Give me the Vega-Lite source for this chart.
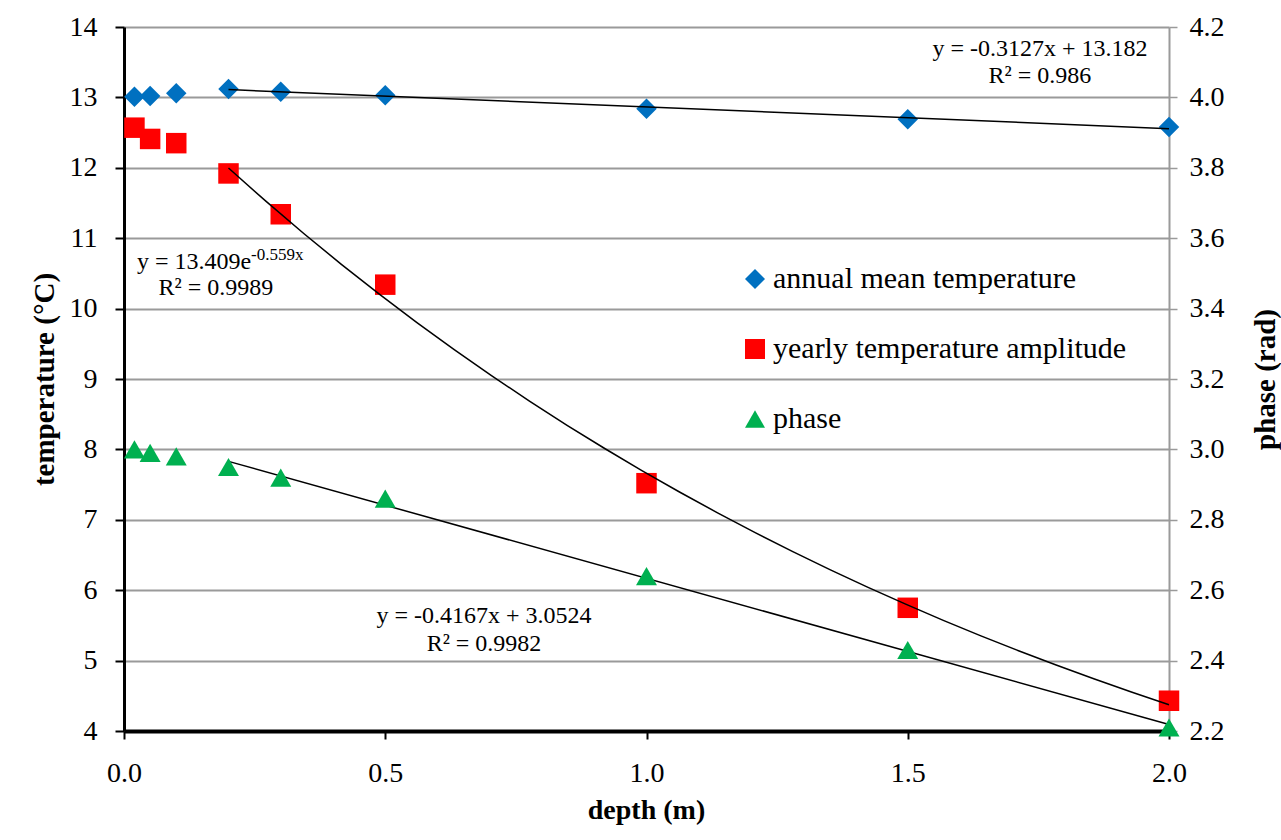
{
  "$schema": "https://vega.github.io/schema/vega-lite/v6.json",
  "width": 1045,
  "height": 704,
  "autosize": "none",
  "padding": {"left": 124, "top": 27, "right": 112, "bottom": 109},
  "background": "white",
  "config": {
    "view": {"stroke": null},
    "font": "Liberation Serif",
    "text": {"font": "Liberation Serif"}
  },
  "datasets": {
    "obs": [
      {"depth": 0.02, "series": "annual mean temperature", "value": 13.01},
      {"depth": 0.05, "series": "annual mean temperature", "value": 13.02},
      {"depth": 0.1, "series": "annual mean temperature", "value": 13.06},
      {"depth": 0.2, "series": "annual mean temperature", "value": 13.12},
      {"depth": 0.3, "series": "annual mean temperature", "value": 13.08},
      {"depth": 0.5, "series": "annual mean temperature", "value": 13.03},
      {"depth": 1.0, "series": "annual mean temperature", "value": 12.84},
      {"depth": 1.5, "series": "annual mean temperature", "value": 12.69},
      {"depth": 2.0, "series": "annual mean temperature", "value": 12.58},
      {"depth": 0.02, "series": "yearly temperature amplitude", "value": 12.57},
      {"depth": 0.05, "series": "yearly temperature amplitude", "value": 12.41},
      {"depth": 0.1, "series": "yearly temperature amplitude", "value": 12.35},
      {"depth": 0.2, "series": "yearly temperature amplitude", "value": 11.92},
      {"depth": 0.3, "series": "yearly temperature amplitude", "value": 11.34},
      {"depth": 0.5, "series": "yearly temperature amplitude", "value": 10.34},
      {"depth": 1.0, "series": "yearly temperature amplitude", "value": 7.52},
      {"depth": 1.5, "series": "yearly temperature amplitude", "value": 5.75},
      {"depth": 2.0, "series": "yearly temperature amplitude", "value": 4.43},
      {"depth": 0.02, "series": "phase", "value": 3.0},
      {"depth": 0.05, "series": "phase", "value": 2.99},
      {"depth": 0.1, "series": "phase", "value": 2.98},
      {"depth": 0.2, "series": "phase", "value": 2.95},
      {"depth": 0.3, "series": "phase", "value": 2.92},
      {"depth": 0.5, "series": "phase", "value": 2.86},
      {"depth": 1.0, "series": "phase", "value": 2.64},
      {"depth": 1.5, "series": "phase", "value": 2.43},
      {"depth": 2.0, "series": "phase", "value": 2.21}
    ],
    "notes": [
      {"label": "y = -0.3127x + 13.182", "depth": 1.753, "value": 13.69, "kind": "c"},
      {"label": "R² = 0.986", "depth": 1.753, "value": 13.3, "kind": "c"},
      {"label": "R² = 0.9989", "depth": 0.176, "value": 10.29, "kind": "c"},
      {"label": "y = -0.4167x + 3.0524", "depth": 0.689, "value": 5.63, "kind": "c"},
      {"label": "R² = 0.9982", "depth": 0.689, "value": 5.24, "kind": "c"},
      {"label": "y = 13.409e", "depth": 0.025, "value": 10.66, "kind": "l"},
      {"label": "-0.559x", "depth": 0.025, "value": 10.66, "kind": "s"}
    ]
  },
  "encoding": {
    "x": {
      "field": "depth", "type": "quantitative",
      "scale": {"domain": [0, 2], "nice": false, "zero": false},
      "axis": {
        "values": [0, 0.5, 1, 1.5, 2], "format": ".1f", "grid": false, "labelFlush": false, "labelOverlap": false,
        "domainColor": "black", "domainWidth": 4, "tickColor": "black", "tickWidth": 2, "tickSize": 8,
        "labelFont": {"expr": "'Liberation Serif'"}, "labelFontSize": 28, "labelPadding": 20, "labelColor": "black",
        "title": "depth (m)", "titleFont": "Liberation Serif", "titleFontSize": 28, "titleFontWeight": "bold",
        "titleX": 522, "titleY": 79, "titleBaseline": "middle", "titleAlign": "center"
      }
    }
  },
  "layer": [
    {
      "encoding": {
        "y": {
          "field": "value", "type": "quantitative",
          "scale": {"domain": [4, 14], "nice": false, "zero": false},
          "axis": {
            "orient": "left", "values": [4, 5, 6, 7, 8, 9, 10, 11, 12, 13, 14], "format": "d",
            "grid": true, "gridColor": "#9a9a9a", "gridWidth": 2,
            "domainColor": "black", "domainWidth": 3, "tickColor": "black", "tickWidth": 2, "tickSize": 9,
            "labelFont": {"expr": "'Liberation Serif'"}, "labelFontSize": 28, "labelPadding": 18, "labelColor": "black",
            "title": "temperature (°C)", "titleFont": "Liberation Serif", "titleFontSize": 29, "titleFontWeight": "bold",
            "titleX": -80, "titleY": 352, "titleAngle": 270, "titleBaseline": "middle", "titleAlign": "center"
          }
        }
      },
      "layer": [
        {
          "data": {"name": "obs"},
          "transform": [{"filter": "datum.series !== 'phase'"}],
          "mark": {"type": "point", "filled": true, "opacity": 1, "size": 420},
          "encoding": {
            "color": {
              "field": "series", "type": "nominal",
              "scale": {"domain": ["annual mean temperature", "yearly temperature amplitude", "phase"], "range": ["#0070C0", "#FF0000", "#00B050"]},
              "legend": {
                "title": null, "orient": "none", "legendX": 616, "legendY": 237, "padding": 0,
                "labelFont": {"expr": "'Liberation Serif'"}, "labelFontSize": 30, "labelOffset": 3, "symbolSize": 400, "rowPadding": 40,
                "symbolStrokeWidth": 0, "labelLimit": 600, "labelColor": "black"
              }
            },
            "shape": {
              "field": "series", "type": "nominal",
              "scale": {"domain": ["annual mean temperature", "yearly temperature amplitude", "phase"], "range": ["diamond", "square", "triangle-up"]},
              "legend": null
            }
          }
        },
        {
          "data": {"name": "obs"},
          "transform": [
            {"filter": "datum.series === 'annual mean temperature' && datum.depth >= 0.2"},
            {"regression": "value", "on": "depth", "method": "linear", "extent": [0.2, 2.0]}
          ],
          "mark": {"type": "line", "color": "black", "strokeWidth": 1.5},
          "encoding": {}
        },
        {
          "data": {"name": "obs"},
          "transform": [
            {"filter": "datum.series === 'yearly temperature amplitude' && datum.depth >= 0.2"},
            {"regression": "value", "on": "depth", "method": "exp", "extent": [0.2, 2.0]}
          ],
          "mark": {"type": "line", "color": "black", "strokeWidth": 1.5},
          "encoding": {}
        },
        {
          "data": {"name": "notes"},
          "transform": [{"filter": "datum.kind === 'c'"}],
          "mark": {"type": "text", "font": "Liberation Serif", "fontSize": 24, "align": "center", "baseline": "middle", "color": "black"},
          "encoding": {"text": {"field": "label"}}
        },
        {
          "data": {"name": "notes"},
          "transform": [{"filter": "datum.kind === 'l'"}],
          "mark": {"type": "text", "font": "Liberation Serif", "fontSize": 24, "align": "left", "baseline": "middle", "color": "black"},
          "encoding": {"text": {"field": "label"}}
        },
        {
          "data": {"name": "notes"},
          "transform": [{"filter": "datum.kind === 's'"}],
          "mark": {"type": "text", "font": "Liberation Serif", "fontSize": 17, "align": "left", "baseline": "middle", "color": "black", "dx": 114, "dy": -7},
          "encoding": {"text": {"field": "label"}}
        }
      ]
    },
    {
      "encoding": {
        "y": {
          "field": "value", "type": "quantitative",
          "scale": {"domain": [2.2, 4.2], "nice": false, "zero": false},
          "axis": {
            "orient": "right", "values": [2.2, 2.4, 2.6, 2.8, 3.0, 3.2, 3.4, 3.6, 3.8, 4.0, 4.2], "format": ".1f",
            "grid": false, "domainColor": "#9a9a9a", "domainWidth": 2, "tickColor": "#9a9a9a", "tickWidth": 1.5, "tickSize": 8,
            "labelFont": {"expr": "'Liberation Serif'"}, "labelFontSize": 28, "labelPadding": 12, "labelColor": "black",
            "title": "phase (rad)", "titleFont": "Liberation Serif", "titleFontSize": 29, "titleFontWeight": "bold",
            "titleX": 96, "titleY": 352, "titleAngle": 270, "titleBaseline": "middle", "titleAlign": "center"
          }
        }
      },
      "layer": [
        {
          "data": {"name": "obs"},
          "transform": [
            {"filter": "datum.series === 'phase' && datum.depth >= 0.2"},
            {"regression": "value", "on": "depth", "method": "linear", "extent": [0.2, 2.0]}
          ],
          "mark": {"type": "line", "color": "black", "strokeWidth": 1.5},
          "encoding": {}
        },
        {
          "data": {"name": "obs"},
          "transform": [{"filter": "datum.series === 'phase'"}],
          "mark": {"type": "point", "filled": true, "opacity": 1, "size": 440},
          "encoding": {
            "color": {
              "field": "series", "type": "nominal",
              "scale": {"domain": ["annual mean temperature", "yearly temperature amplitude", "phase"], "range": ["#0070C0", "#FF0000", "#00B050"]},
              "legend": null
            },
            "shape": {
              "field": "series", "type": "nominal",
              "scale": {"domain": ["annual mean temperature", "yearly temperature amplitude", "phase"], "range": ["diamond", "square", "triangle-up"]},
              "legend": null
            }
          }
        }
      ]
    }
  ],
  "resolve": {"scale": {"y": "independent"}}
}
